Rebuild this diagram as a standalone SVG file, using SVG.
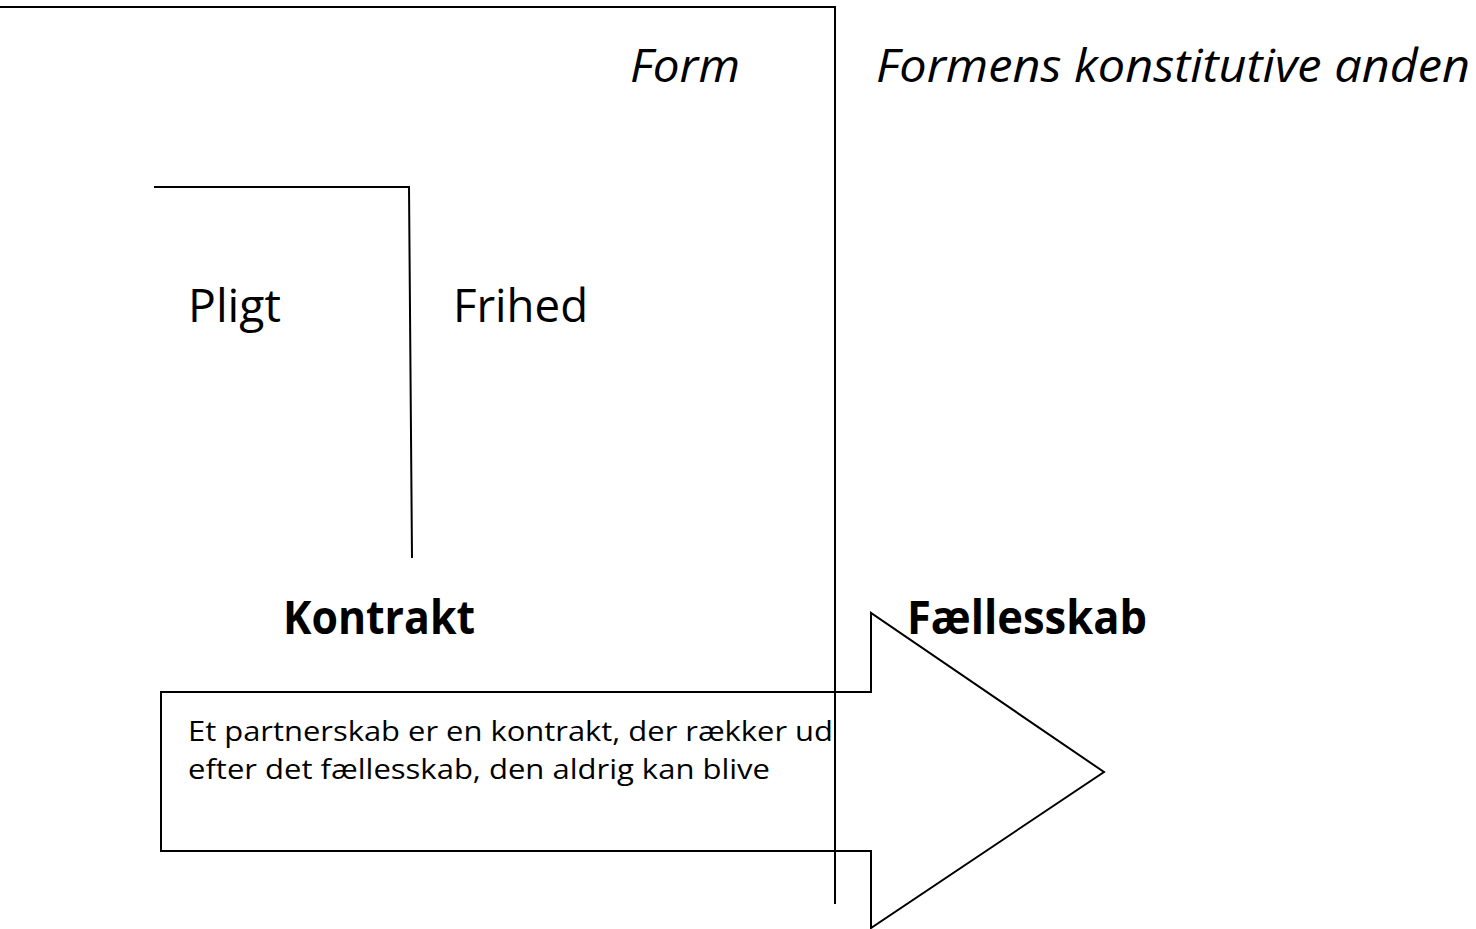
<svg xmlns="http://www.w3.org/2000/svg" width="1476" height="929" viewBox="0 0 1476 929">
<style>
.ln{fill:none;stroke:#000;stroke-width:2}
.t{font-family:"Open Sans","Liberation Sans",sans-serif;fill:#000}
.big{font-size:46px}
.it{font-style:italic}
.b{font-weight:bold}
.body{font-size:27px}
</style>
<rect width="1476" height="929" fill="#fff"/>
<g id="connectors">
<polyline class="ln" points="0,7 835,7 835,904"/>
<polyline class="ln" points="154,187 409,187 412,558"/>
</g>
<g id="arrow">
<polygon class="ln" stroke-width="1.5" points="161,692 871,692 871,613 1104,772 871,928 871,851 161,851"/>
<text class="t body" x="188" y="741" textLength="645" lengthAdjust="spacingAndGlyphs">Et partnerskab er en kontrakt, der rækker ud</text>
<text class="t body" x="188" y="779" textLength="582" lengthAdjust="spacingAndGlyphs">efter det fællesskab, den aldrig kan blive</text>
</g>
<g id="form"><text class="t big it" x="630" y="82" textLength="110" lengthAdjust="spacingAndGlyphs">Form</text></g>
<g id="anden"><text class="t big it" x="876" y="82" textLength="594" lengthAdjust="spacingAndGlyphs">Formens konstitutive anden</text></g>
<g id="pligt"><text class="t big" x="188" y="322" textLength="93" lengthAdjust="spacingAndGlyphs">Pligt</text></g>
<g id="frihed"><text class="t big" x="453" y="322" textLength="135" lengthAdjust="spacingAndGlyphs">Frihed</text></g>
<g id="kontrakt"><text class="t big b" x="283" y="634" textLength="192" lengthAdjust="spacingAndGlyphs">Kontrakt</text></g>
<g id="faellesskab"><text class="t big b" x="907" y="634" textLength="240" lengthAdjust="spacingAndGlyphs">Fællesskab</text></g>
</svg>
